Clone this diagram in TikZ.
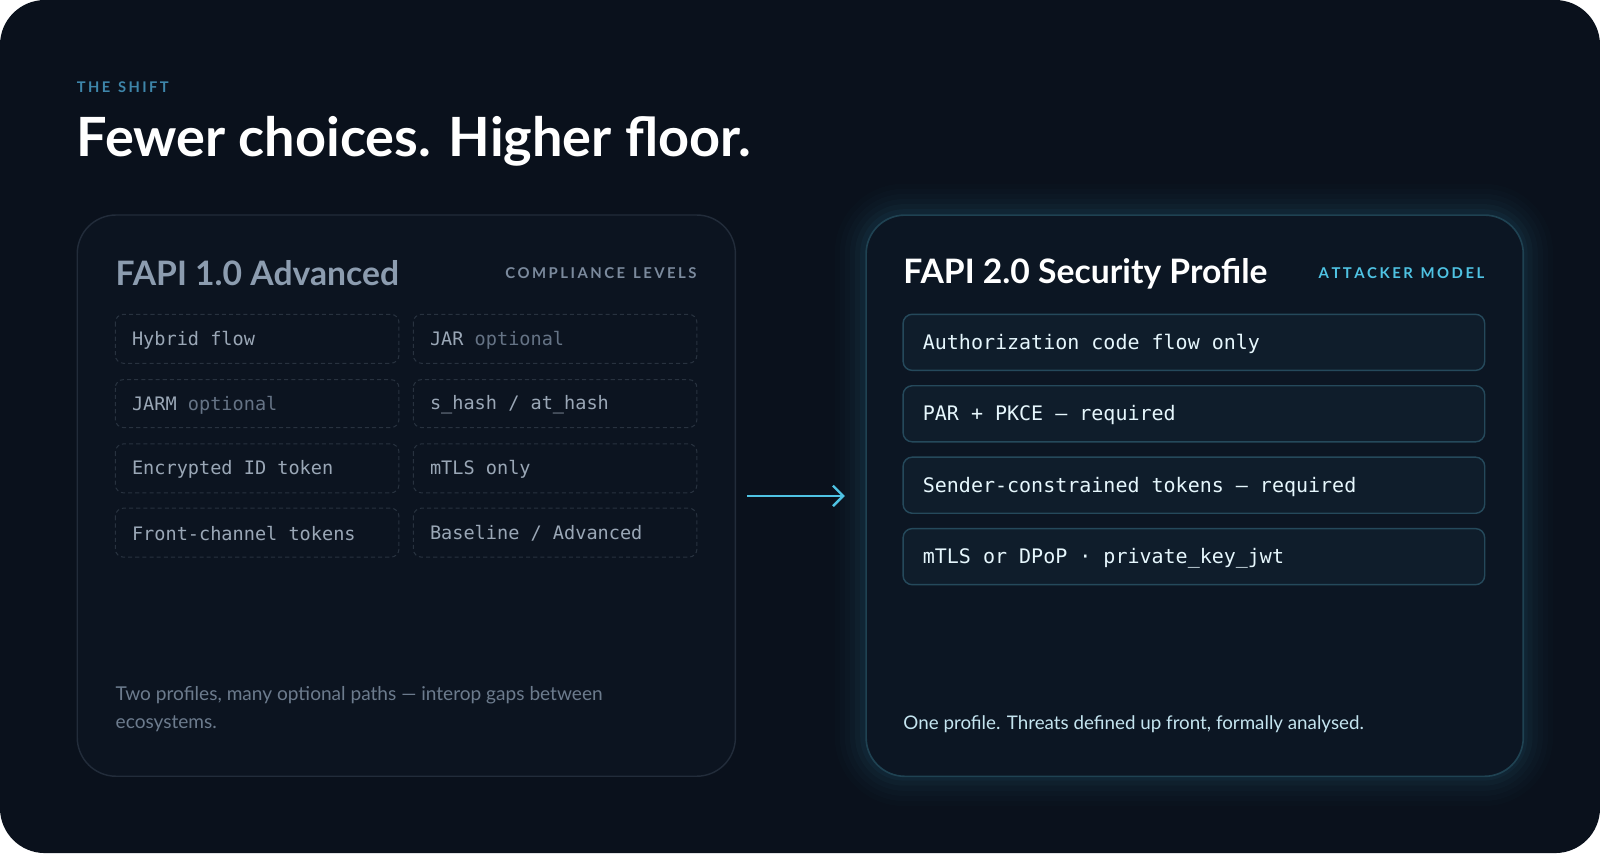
\documentclass[tikz,border=0pt]{standalone}
\usepackage{fontspec}
\setmainfont{Lato}
\newfontfamily\monof{DejaVu Sans Mono}
\usetikzlibrary{arrows.meta}
\definecolor{bgA}{HTML}{0A111C}
\definecolor{panL}{HTML}{0C1420}
\definecolor{panLb}{HTML}{222C3A}
\definecolor{panR}{HTML}{0C1623}
\definecolor{panRb}{HTML}{1F4252}
\definecolor{cellb}{HTML}{28323F}
\definecolor{rowf}{HTML}{0F1D2B}
\definecolor{rowb}{HTML}{25495B}
\definecolor{cyanA}{HTML}{4FC3E3}
\definecolor{kick}{HTML}{3E86AA}
\definecolor{greyT}{HTML}{8C9CAF}
\definecolor{greyS}{HTML}{7B8A9D}
\definecolor{cellT}{HTML}{9AA7B6}
\definecolor{optT}{HTML}{657385}
\definecolor{footL}{HTML}{6C7B8D}
\definecolor{footR}{HTML}{C4E4EF}
\begin{document}
\begin{tikzpicture}[x=0.5pt,y=-0.5pt,
  cell/.style={draw=cellb,dashed,dash pattern=on 2pt off 1.5pt,line width=0.5pt,rounded corners=4pt},
  ctext/.style={anchor=west,text=cellT,font=\monof\fontsize{9.1}{11}\selectfont,inner sep=0},
  row/.style={draw=rowb,fill=rowf,line width=0.7pt,rounded corners=4.5pt},
  rtext/.style={anchor=west,text=white!90!cyan,font=\monof\fontsize{9.8}{12}\selectfont,inner sep=0},
  ptitle/.style={anchor=west,font=\fontsize{16.5}{19}\selectfont\bfseries,inner sep=0},
  tag/.style={anchor=east,font=\fontsize{7.3}{9}\selectfont\bfseries,inner sep=0}]
\useasboundingbox (0,0) rectangle (1568,836);
\fill[white] (0,0) rectangle (1568,836);
\fill[bgA] (0,0) [rounded corners=22pt] rectangle (1568,836);
% kicker and title
\node[anchor=west,inner sep=0,text=kick,font=\fontsize{7.2}{9}\selectfont\bfseries] (kick) at (75,85) {T\,H\,E\; S\,H\,I\,F\,T};
\node[anchor=base west,inner sep=0,text=white,font=\fontsize{26.5}{31}\selectfont\bfseries] (title) at (75,153) {Fewer choices. Higher floor.};
% left panel
\node[draw=panLb,fill=panL,line width=0.7pt,rounded corners=19pt,minimum width=645*0.5pt,minimum height=550*0.5pt,anchor=north west,inner sep=0] (lp) at (75,210) {};
\node[ptitle,text=greyT] (lt) at (113,268) {FAPI 1.0 Advanced};
\node[tag,text=greyS] (lg) at (683,268) {C\,O\,M\,P\,L\,I\,A\,N\,C\,E\; L\,E\,V\,E\,L\,S};
\foreach \n/\ya/\yb in {1/308/356,2/372/419,3/435/483,4/498/546}{
  \draw[cell] (113,\ya) rectangle (391,\yb);
  \draw[cell] (405,\ya) rectangle (683,\yb);
}
\node[ctext] (a1) at (129,334) {Hybrid flow};
\node[ctext] (b1) at (421,334) {JAR \textcolor{optT}{optional}};
\node[ctext] (a2) at (129,397) {JARM \textcolor{optT}{optional}};
\node[ctext] (b2) at (421,397) {s\_hash / at\_hash};
\node[ctext] (a3) at (129,460) {Encrypted ID token};
\node[ctext] (b3) at (421,460) {mTLS only};
\node[ctext] (a4) at (129,523) {Front-channel tokens};
\node[ctext] (b4) at (421,523) {Baseline / Advanced};
\node[anchor=north west,inner sep=0,text=footL,align=left,font=\fontsize{9.35}{14}\selectfont] (lf) at (113,672) {Two profiles, many optional paths --- interop gaps between\\ecosystems.};
% glow
\foreach \i/\o in {1/0.035,2/0.03,3/0.025,4/0.02,5/0.015,6/0.01}{
  \fill[cyanA,opacity=\o,rounded corners=19pt+\i*2.5pt] (848-\i*5,210-\i*5) rectangle (1492+\i*5,760+\i*5);
}
% right panel
\node[draw=panRb,fill=panR,line width=0.8pt,rounded corners=19pt,minimum width=644*0.5pt,minimum height=550*0.5pt,anchor=north west,inner sep=0] (rp) at (848,210) {};
\node[ptitle,text=white] (rt) at (885,268) {FAPI 2.0 Security Profile};
\node[tag,text=cyanA] (rg) at (1455,268) {A\,T\,T\,A\,C\,K\,E\,R\; M\,O\,D\,E\,L};
\foreach \ya/\yb in {308/363,378/433,448/503,518/573}{
  \draw[row] (885,\ya) rectangle (1455,\yb);
}
\node[rtext] (r1) at (904,337) {Authorization code flow only};
\node[rtext] (r2) at (904,407) {PAR + PKCE — required};
\node[rtext] (r3) at (904,477) {Sender-constrained tokens — required};
\node[rtext] (r4) at (904,547) {mTLS or DPoP · private\_key\_jwt};
\node[anchor=west,inner sep=0,text=footR,font=\fontsize{9.2}{12}\selectfont] (rf) at (885,710) {One profile. Threats defined up front, formally analysed.};
% arrow
\coordinate (as) at (732,486);
\coordinate (ae) at (828,486);
\draw[cyanA,line width=1.2pt,-{Straight Barb[length=5pt,width=10pt]}] (as) -- (ae);
\end{tikzpicture}
\end{document}
